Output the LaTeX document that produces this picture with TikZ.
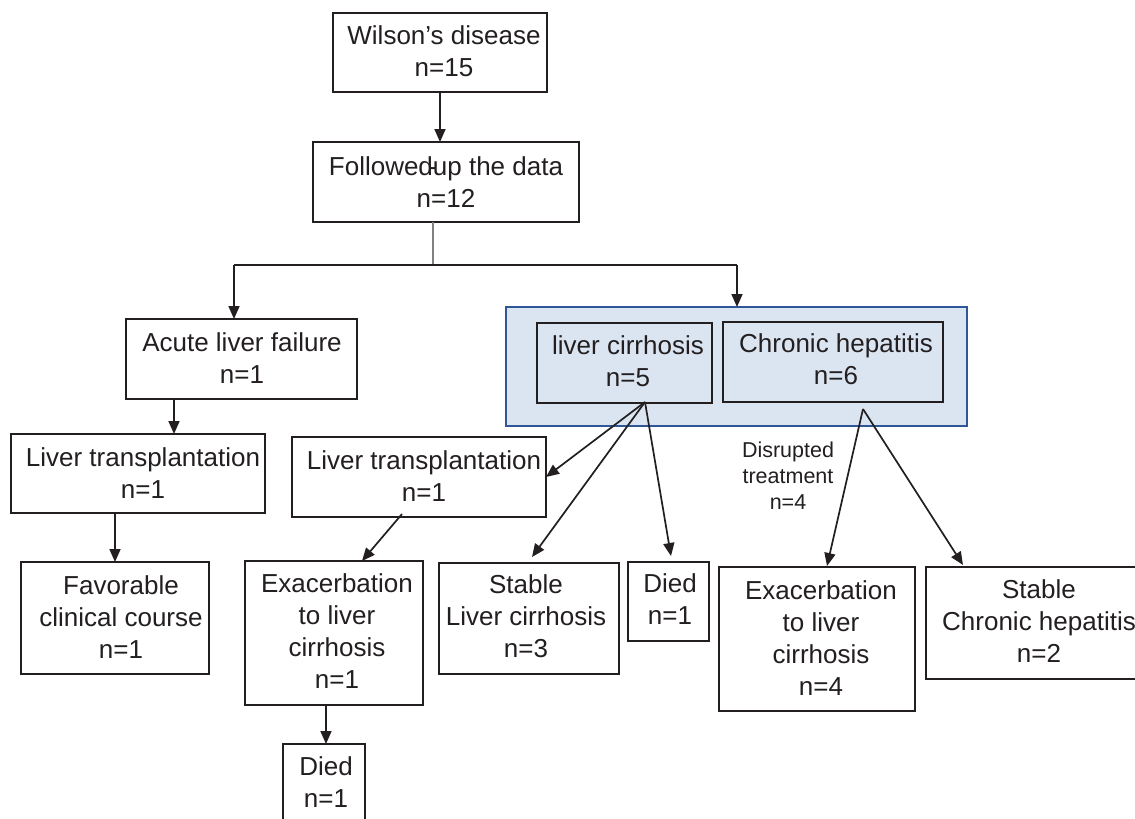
\documentclass[tikz,border=0pt]{standalone}
\usepackage{fontspec}
\setmainfont{Liberation Sans}
\usetikzlibrary{arrows.meta,calc}
\definecolor{ink}{RGB}{35,31,32}
\definecolor{bluefill}{RGB}{219,229,241}
\definecolor{blueline}{RGB}{47,87,151}
\newcommand\mybox[6][]{\node[box,#1,minimum width={#5-#3},minimum height={#6-#4}] (#2) at ({(#3+#5)/2},{(#4+#6)/2}) {};}
\begin{document}
\begin{tikzpicture}[x=1pt,y=-1pt,
 box/.style={draw=ink, line width=1.7pt, inner sep=0pt, outer sep=0pt, rectangle},
 group/.style={draw=blueline, fill=bluefill, line width=2.2pt},
 txt/.style={text=ink, align=center, inner sep=0pt, font=\fontsize{26}{32}\selectfont},
 lab/.style={text=ink, align=center, inner sep=0pt, font=\fontsize{21.5}{26}\selectfont},
 arr/.style={draw=ink, line width=1.7pt, -{Triangle[length=13pt,width=11pt]}},
 thin/.style={draw=gray, line width=1.2pt},
]
\useasboundingbox (0,0) rectangle (1135,819);
\fill[white] (0,0) rectangle (1135,819);

% boxes
\mybox{wd}{333}{13}{547}{92}
\mybox{fu}{313}{142}{579}{222}
\mybox{alf}{126}{319}{357}{399}
\mybox{lt1}{11}{434}{265}{513}
\mybox{fav}{21}{562}{209}{674}
\mybox[group]{blue}{506}{307}{967}{426}
\mybox{lc}{537}{323}{712}{403}
\mybox{ch}{723}{322}{943}{402}
\mybox{lt2}{292}{437}{546}{517}
\mybox{ex1}{245}{561}{423}{705}
\mybox{d1}{283}{744}{365}{850}
\mybox{slc}{439}{563}{619}{674}
\mybox{d2}{628}{562}{709}{641}
\mybox{ex2}{719}{567}{915}{711}
\mybox{sch}{926}{567}{1160}{679}

% texts
\node[txt] (wdt) at (444,51.5) {Wilson’s disease\\n=15};
\node[txt] (fut) at (446,182.5) {Followed\makebox[0pt]{-}up the data\\n=12};
\node[txt] (alft) at (242,358.5) {Acute liver failure\\n=1};
\node[txt] (lt1t) at (143,473.5) {Liver transplantation\\n=1};
\node[txt] (favt) at (121,617.5) {Favorable\\clinical course\\n=1};
\node[txt] (lct) at (628,361.5) {liver cirrhosis\\n=5};
\node[txt] (cht) at (836,359.5) {Chronic hepatitis\\n=6};
\node[txt] (lt2t) at (424,476.5) {Liver transplantation\\n=1};
\node[txt] (ex1t) at (337,631.5) {Exacerbation\\to liver\\cirrhosis\\n=1};
\node[txt] (d1t) at (326,782.5) {Died\\n=1};
\node[txt] (slct) at (526,616.5) {Stable\\Liver cirrhosis\\n=3};
\node[txt] (d2t) at (670,599.5) {Died\\n=1};
\node[txt] (ex2t) at (821,638.5) {Exacerbation\\to liver\\cirrhosis\\n=4};
\node[txt] (scht) at (1039,621.5) {Stable\\Chronic hepatitis\\n=2};
\node[lab] (dis) at (788,476) {Disrupted\\treatment\\n=4};

% connectors
\draw[arr] (wd.south) -- (wd.south |- fu.north);
\coordinate (split) at (433,265);
\coordinate (hl) at (234,265);
\coordinate (hr) at (737,265);
\draw[thin] ([xshift=-13pt]fu.south) -- (split);
\draw[ink, line width=1.7pt] (hl) -- (hr);
\draw[arr] (hl) -- (hl |- alf.north);
\draw[arr] (hr) -- (hr |- blue.north);
\draw[arr] ([xshift=-67.5pt]alf.south) coordinate (a1) -- (a1 |- lt1.north);
\draw[arr] ([xshift=-23pt]lt1.south) coordinate (a2) -- (a2 |- fav.north);
\draw[arr] ([xshift=-8pt]ex1.south) coordinate (a3) -- (a3 |- d1.north);
\draw[arr] ([xshift=-17pt,yshift=3pt]lt2.south) -- ([xshift=28pt]ex1.north);
\coordinate (lcb) at ([xshift=20.5pt,yshift=1pt]lc.south);
\draw[arr] (lcb) -- (lt2.east);
\draw[arr] (lcb) -- ([xshift=3pt,yshift=6pt]slc.north);
\draw[arr] (lcb) -- ([xshift=2.5pt,yshift=6pt]d2.north);
\coordinate (chb) at ([xshift=30pt,yshift=-7pt]ch.south);
\draw[arr] (chb) -- ([xshift=10pt,yshift=1pt]ex2.north);
\draw[arr] (chb) -- ([xshift=37pt,yshift=2pt]sch.north west);
\end{tikzpicture}
\end{document}
